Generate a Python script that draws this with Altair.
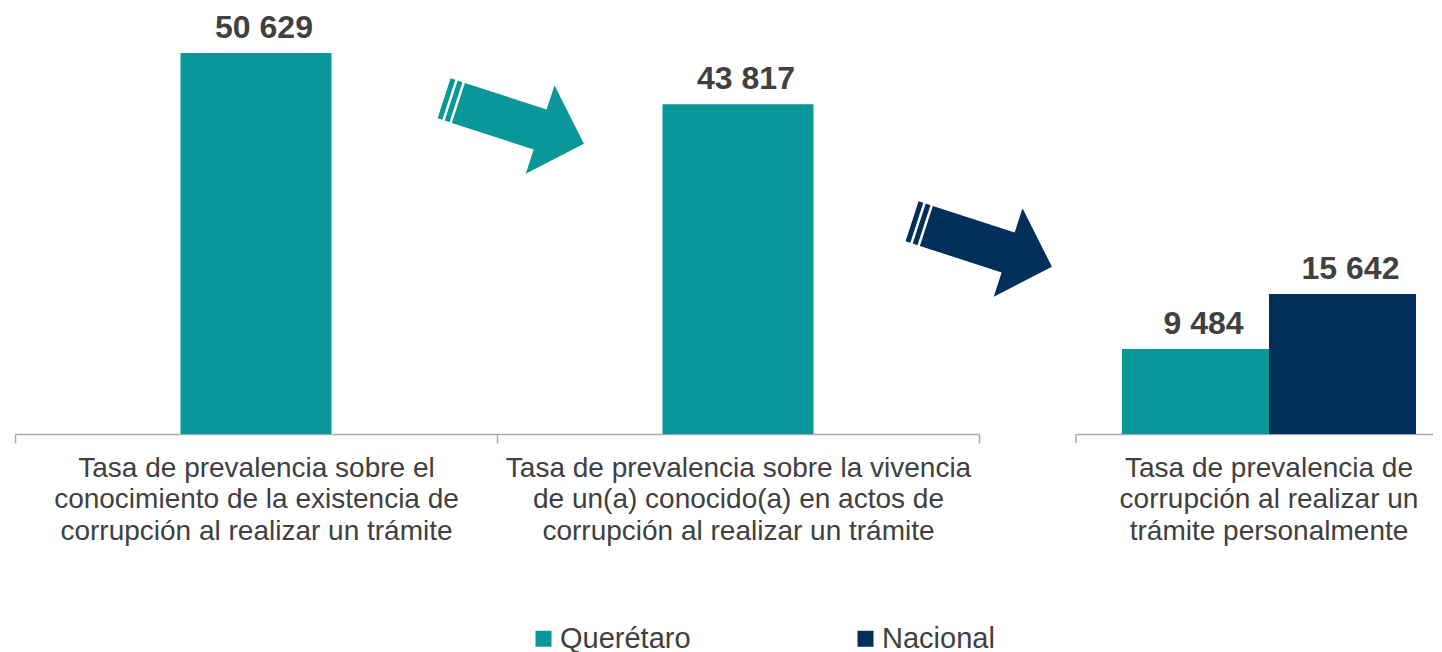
import altair as alt
import pandas as pd

# ---- data ----
categorias = [
    ["Tasa de prevalencia sobre el", "conocimiento de la existencia de", "corrupción al realizar un trámite"],
    ["Tasa de prevalencia sobre la vivencia", "de un(a) conocido(a) en actos de", "corrupción al realizar un trámite"],
    ["Tasa de prevalencia de", "corrupción al realizar un", "trámite personalmente"],
]
series = ["Querétaro", "Nacional"]
colores = ["#0A979A", "#00305A"]
queretaro = [50629, 43817, 9484]
nacional = [None, None, 15642]

FONT = "Liberation Sans"
TXT = "#404040"
AX = "#A3ACB6"

cats = ["|".join(c) for c in categorias]


def etiqueta(v):
    return f"{v:,}".replace(",", " ")


df1 = pd.DataFrame({
    "categoria": cats[:2],
    "serie": [series[0]] * 2,
    "valor": queretaro[:2],
})
df1["etiqueta"] = df1["valor"].map(etiqueta)

df2 = pd.DataFrame({
    "categoria": [cats[2], cats[2]],
    "serie": series,
    "valor": [queretaro[2], nacional[2]],
})
df2["etiqueta"] = df2["valor"].map(etiqueta)

W1, W2, H = 964, 357, 421
D1, D2 = 55950, 47000

ARROW = ("M-1,-0.286 L-0.932,-0.286 L-0.932,0.286 L-1,0.286 Z "
         "M-0.898,-0.286 L-0.83,-0.286 L-0.83,0.286 L-0.898,0.286 Z "
         "M-0.796,-0.286 L0.374,-0.286 L0.374,-0.633 L1,0 L0.374,0.633 "
         "L0.374,0.286 L-0.796,0.286 Z")

axis_common = dict(
    title=None, labelAngle=0, labelFont=FONT, labelFontSize=28, labelColor=TXT,
    labelLineHeight=31.5, labelBaseline="top", labelPadding=11, labelLimit=0,
    labelExpr="isString(datum.value) ? split(datum.value, '|') : ''",
    domainColor=AX, domainWidth=1.5,
    tickColor=AX, tickWidth=1.5, tickSize=9, grid=False,
)

color = alt.Color(
    "serie:N",
    scale=alt.Scale(domain=series, range=colores),
    legend=alt.Legend(
        title=None, orient="none", legendX=514, legendY=611, direction="horizontal",
        columns=2, columnPadding=160, symbolType="square", symbolSize=256,
        symbolStrokeWidth=0, symbolOpacity=1, labelFontSize=29, labelFont=FONT,
        labelColor=TXT, labelOffset=2, labelLimit=400, padding=0,
    ),
)

text_style = dict(font=FONT, fontSize=32, fontWeight="bold", color=TXT,
                  baseline="alphabetic", dy=-15, dx=8)

# ---- left panel ----
base1 = alt.Chart(df1).encode(
    x=alt.X("categoria:N", sort=cats[:2],
            scale=alt.Scale(paddingInner=0, paddingOuter=0),
            axis=alt.Axis(tickBand="extent", **axis_common)),
    y=alt.Y("valor:Q", scale=alt.Scale(domain=[0, D1], nice=False), axis=None),
)
bars1 = base1.mark_bar(size=151).encode(color=color)
text1 = base1.mark_text(**text_style).encode(text="etiqueta:N")

arrow1 = alt.Chart(pd.DataFrame({"flecha": [series[0]]})).mark_point(
    shape=ARROW, size=21609, angle=18, filled=True, opacity=1, strokeWidth=0,
    color=colores[0],
).encode(x=alt.value(499), y=alt.value(108))
arrow2 = alt.Chart(pd.DataFrame({"flecha": [series[1]]})).mark_point(
    shape=ARROW, size=21609, angle=18, filled=True, opacity=1, strokeWidth=0,
    color=colores[1],
).encode(x=alt.value(967), y=alt.value(231))

left = alt.layer(bars1, text1, arrow1, arrow2).properties(width=W1, height=H)

# ---- right panel ----
base2 = alt.Chart(df2).encode(
    x=alt.X("categoria:N",
            scale=alt.Scale(paddingInner=0, paddingOuter=0.10714, align=0.7302),
            axis=alt.Axis(tickOpacity=0, **axis_common)),
    xOffset=alt.XOffset("serie:N", sort=series,
                        scale=alt.Scale(domain=series, paddingInner=0, paddingOuter=0)),
    y=alt.Y("valor:Q", scale=alt.Scale(domain=[0, D2], nice=False), axis=None),
)
bars2 = base2.mark_bar().encode(color=color)
text2 = base2.mark_text(**text_style).encode(text="etiqueta:N")
tick2 = alt.Chart(pd.DataFrame({"t": [0]})).mark_rule(
    color=AX, strokeWidth=1.5
).encode(x=alt.value(0), y=alt.value(H), y2=alt.value(H + 9))

right = alt.layer(bars2, text2, tick2).properties(width=W2, height=H)

chart = alt.hconcat(left, right, spacing=97, bounds="flush").resolve_scale(
    color="shared", y="independent", x="independent"
).resolve_legend(color="shared").properties(
    padding={"left": 6, "top": 4, "right": 0, "bottom": 0}
).configure_view(stroke=None)

chart.save("out.html", embed_options={"renderer": "svg", "actions": False})
